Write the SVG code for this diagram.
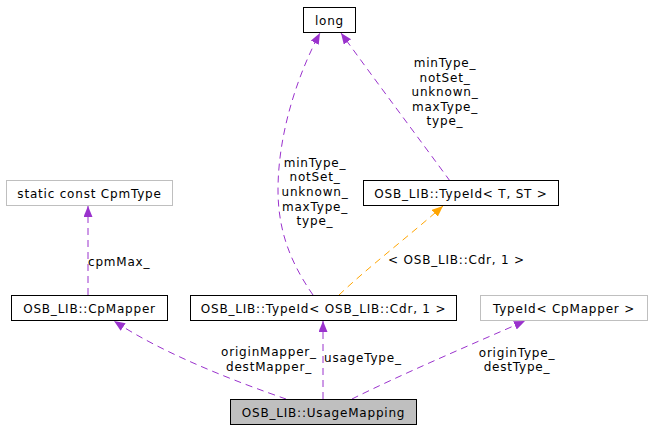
<svg xmlns="http://www.w3.org/2000/svg" width="651" height="429" viewBox="0 0 651 429">
<style>
text{font-family:"DejaVu Sans","Liberation Sans",sans-serif;font-size:12px;letter-spacing:0.8px;fill:#000}
.n{text-anchor:middle}
.m{text-anchor:middle}
.box{fill:#fff;stroke:#000;stroke-width:1}
.gbox{fill:#fff;stroke:#bfbfbf;stroke-width:1}
.sel{fill:#bfbfbf;stroke:#000;stroke-width:1}
.e{fill:none;stroke:#9a32cd;stroke-width:1;stroke-dasharray:7,5}
.o{fill:none;stroke:#ffa500;stroke-width:1;stroke-dasharray:7,5}
</style>
<defs>
<marker id="ap" markerUnits="userSpaceOnUse" markerWidth="12" markerHeight="10" refX="11" refY="4.5" orient="auto"><path d="M0,0 L11,4.5 L0,9 z" fill="#9a32cd"/></marker>
<marker id="ao" markerUnits="userSpaceOnUse" markerWidth="12" markerHeight="10" refX="11" refY="4.5" orient="auto"><path d="M0,0 L11,4.5 L0,9 z" fill="#ffa500"/></marker>
</defs>
<rect width="651" height="429" fill="#fff"/>
<g id="edges">
<path class="e" d="M88,295 L88,206" marker-end="url(#ap)"/>
<path class="e" d="M286,399 C240,383 165,355 114,321" marker-end="url(#ap)"/>
<path class="e" d="M323,399 L323,321" marker-end="url(#ap)"/>
<path class="e" d="M352,399 C400,375 470,345 525,321" marker-end="url(#ap)"/>
<path class="e" d="M313,295 C290,262 278,230 278,190 C278,130 300,70 320,33" marker-end="url(#ap)"/>
<path class="e" d="M450,181 C420,140 375,80 341,33" marker-end="url(#ap)"/>
<path class="o" d="M339,295 C365,270 410,235 443,206" marker-end="url(#ao)"/>
<text x="88" y="266">cpmMax_</text>
<text class="m" x="269" y="356">originMapper_</text>
<text class="m" x="269" y="371">destMapper_</text>
<text x="324" y="362">usageType_</text>
<text class="m" x="517" y="357">originType_</text>
<text class="m" x="517" y="371">destType_</text>
<text class="m" x="315" y="167">minType_</text>
<text class="m" x="315" y="181">notSet_</text>
<text class="m" x="315" y="196">unknown_</text>
<text class="m" x="315" y="211">maxType_</text>
<text class="m" x="315" y="225">type_</text>
<text class="m" x="445" y="67">minType_</text>
<text class="m" x="445" y="82">notSet_</text>
<text class="m" x="445" y="96">unknown_</text>
<text class="m" x="445" y="111">maxType_</text>
<text class="m" x="445" y="125">type_</text>
<text x="388" y="264">&lt; OSB_LIB::Cdr, 1 &gt;</text>
</g>
<g id="node_long"><rect class="box" x="303.5" y="7.5" width="52" height="25"/><text class="n" x="329.5" y="24.5">long</text></g>
<g id="node_cpmtype"><rect class="gbox" x="6.5" y="180.5" width="166" height="25"/><text class="n" x="89.5" y="197.5">static const CpmType</text></g>
<g id="node_typeid_t_st"><rect class="box" x="363.5" y="180.5" width="195" height="25"/><text class="n" x="461" y="197.5">OSB_LIB::TypeId&lt; T, ST &gt;</text></g>
<g id="node_cpmapper"><rect class="box" x="11.5" y="295.5" width="156" height="25"/><text class="n" x="89.5" y="312.5">OSB_LIB::CpMapper</text></g>
<g id="node_typeid_cdr"><rect class="box" x="190.5" y="295.5" width="266" height="25"/><text class="n" x="323.5" y="312.5">OSB_LIB::TypeId&lt; OSB_LIB::Cdr, 1 &gt;</text></g>
<g id="node_typeid_cpmapper"><rect class="gbox" x="480.5" y="295.5" width="167" height="25"/><text class="n" x="564" y="312.5">TypeId&lt; CpMapper &gt;</text></g>
<g id="node_usagemapping"><rect class="sel" x="230.5" y="399.5" width="186" height="25"/><text class="n" x="323.5" y="416.5">OSB_LIB::UsageMapping</text></g>
</svg>
